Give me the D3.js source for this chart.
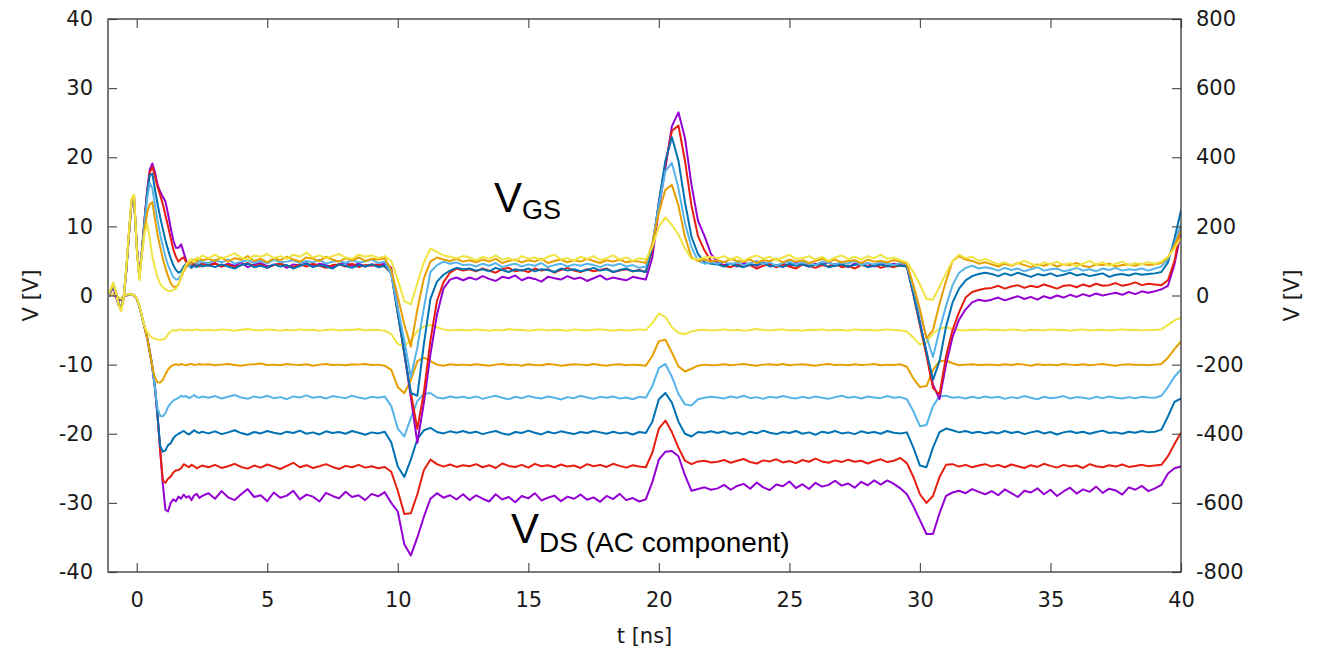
<!DOCTYPE html>
<html>
<head>
<meta charset="utf-8">
<script src="https://cdn.jsdelivr.net/npm/d3@7"></script>
<style>
  body { margin: 0; background: #fff; }
  svg { display: block; }
</style>
</head>
<body>
<svg id="chart" width="1317" height="650"></svg>
<script>
// Sample times (ns): fine steps through the first switching event, 0.25 ns afterwards
const timeNs = [
  -1.1,-1.0,-0.9,-0.8,-0.7,-0.6,-0.5,-0.4,-0.3,-0.2,-0.1,0,0.1,0.2,0.3,0.4,0.5,0.6,0.7,0.8,0.9,1.0,1.1,1.2,1.3,1.4,1.5,1.6,1.7,1.8,1.9,2.0,2.1,2.2,2.3,2.4,2.5,
  2.75,3,3.25,3.5,3.75,4,4.25,4.5,4.75,5,5.25,5.5,5.75,6,6.25,6.5,6.75,7,7.25,7.5,7.75,8,8.25,8.5,8.75,9,9.25,9.5,
  9.75,10,10.25,10.5,10.75,11,11.25,11.5,11.75,12,12.25,12.5,
  12.75,13,13.25,13.5,13.75,14,14.25,14.5,14.75,15,15.25,15.5,15.75,16,16.25,16.5,16.75,17,17.25,17.5,17.75,18,18.25,18.5,18.75,19,19.25,19.5,
  19.75,20,20.25,20.5,20.75,21,21.25,21.5,21.75,22,
  22.25,22.5,22.75,23,23.25,23.5,23.75,24,24.25,24.5,24.75,25,25.25,25.5,25.75,26,26.25,26.5,26.75,27,27.25,27.5,27.75,28,28.25,28.5,28.75,29,29.25,29.5,
  29.75,30,30.25,30.5,30.75,31,31.25,31.5,31.75,32,32.25,32.5,
  32.75,33,33.25,33.5,33.75,34,34.25,34.5,34.75,35,35.25,35.5,35.75,36,36.25,36.5,36.75,37,37.25,37.5,37.75,38,38.25,38.5,38.75,
  39,39.25,39.5,39.75,40
];

// Gate-source voltage V_GS (left axis, V)
const vgsPurple = [
  -0.2,0.6,1.2,0.0,-1.4,-1.8,-0.6,3.5,8.6,13.3,13.8,7.3,2.8,6.5,11.0,15.2,18.2,19.1,17.8,16.0,15.0,14.3,13.6,11.8,9.8,8.0,6.9,6.9,7.4,6.2,5.0,4.6,4.8,4.2,4.6,4.3,4.7,
  4.4,4.7,4.2,4.6,4.3,4.8,4.1,4.5,4.7,4.2,4.4,4.6,4.0,4.5,4.3,4.7,4.2,4.6,4.4,4.1,4.5,4.7,4.3,4.6,4.2,4.5,4.4,4.6,
  4.0,-2.0,-8.4,-14.7,-21.3,-15.5,-8.5,-2.8,1.0,2.3,2.6,2.2,
  2.6,2.3,2.8,2.4,2.1,2.7,2.5,2.9,2.2,2.6,2.4,2.0,2.7,2.5,2.3,2.8,2.4,2.6,2.1,2.5,2.9,2.3,2.6,2.4,2.2,2.7,2.5,2.3,
  5.5,12.5,18.5,24.5,26.5,22.8,16.0,10.8,8.6,6.0,
  4.8,4.4,4.6,4.2,4.7,4.5,4.3,4.8,4.4,4.1,4.6,4.3,4.7,4.5,4.2,4.6,4.4,4.8,4.3,4.5,4.1,4.6,4.4,4.7,4.2,4.5,4.3,4.6,4.4,4.3,
  0.3,-3.9,-8.2,-12.9,-15.0,-10.0,-6.0,-3.5,-2.0,-1.0,-0.6,-0.8,
  -0.6,-0.3,-0.7,-0.4,-0.1,-0.5,-0.2,-0.6,-0.1,-0.4,0.0,-0.3,0.1,-0.2,0.2,-0.1,0.3,0.0,0.2,0.4,0.1,0.5,0.2,0.6,0.4,
  0.6,0.9,1.4,4.5,9.2
];
const vgsRed = [
  -0.1,0.5,1.4,0.3,-1.1,-2.0,-0.2,3.6,8.7,13.4,13.9,7.2,2.7,6.5,11.0,15.0,17.8,18.6,17.2,15.7,14.5,13.2,11.6,10.0,8.3,6.7,5.6,4.9,5.3,5.5,4.8,4.5,4.3,4.7,4.4,4.2,4.6,
  4.3,4.6,4.2,4.5,4.1,4.4,4.7,4.2,4.5,4.0,4.4,4.6,4.3,4.1,4.5,4.2,4.6,4.3,4.0,4.4,4.5,4.2,4.6,4.1,4.4,4.3,4.5,4.2,
  3.2,-2.6,-8.3,-14.1,-19.3,-14.0,-6.5,-0.8,1.9,3.3,3.9,3.6,
  3.8,3.5,3.9,3.6,3.3,3.8,4.0,3.5,3.7,3.4,3.9,3.6,3.8,3.3,3.7,4.0,3.6,3.4,3.8,3.5,3.7,3.9,3.4,3.6,3.8,3.5,3.7,3.4,
  6.5,13.5,19.0,23.8,24.6,19.5,13.0,8.6,6.5,5.0,
  4.6,4.3,4.1,4.5,4.2,4.4,3.9,4.3,4.6,4.1,4.4,4.2,3.9,4.5,4.3,4.0,4.4,4.2,4.6,4.1,4.3,3.9,4.4,4.2,4.5,4.0,4.3,4.1,4.4,4.2,
  0.1,-4.3,-8.7,-13.4,-14.3,-8.8,-5.0,-2.4,-0.3,0.5,0.8,1.0,
  1.1,1.4,1.0,1.3,1.5,1.1,1.4,1.2,1.6,1.3,1.0,1.4,1.5,1.2,1.6,1.3,1.7,1.4,1.5,1.8,1.4,1.6,1.9,1.5,1.7,
  1.6,1.5,2.2,5.0,10.1
];
const vgsDarkBlue = [
  0.1,0.6,1.5,0.5,-1.0,-1.9,-0.3,3.7,8.8,13.5,14.0,7.1,2.6,6.4,10.8,14.8,17.4,17.6,15.3,13.2,11.3,9.6,8.0,6.6,5.4,4.4,3.7,3.3,3.5,4.2,4.6,4.3,4.0,4.4,4.1,4.5,4.2,
  4.4,4.1,4.5,4.2,3.9,4.4,4.6,4.1,4.3,4.0,4.5,4.2,4.4,3.9,4.3,4.6,4.1,4.4,4.2,3.9,4.5,4.3,4.0,4.4,4.2,4.5,4.1,4.3,
  3.2,-2.6,-8.3,-14.1,-14.5,-7.0,-0.5,2.0,3.0,3.6,4.0,3.8,
  3.9,3.6,3.8,3.5,4.0,3.7,3.4,3.8,3.6,3.9,3.5,3.8,3.7,3.4,3.9,3.6,3.8,3.5,3.7,4.0,3.6,3.8,3.4,3.7,3.9,3.5,3.6,3.4,
  7.0,13.5,19.5,22.9,19.5,13.5,8.5,6.0,4.8,4.6,
  4.5,4.2,4.6,4.3,4.1,4.5,4.4,4.7,4.2,4.4,4.1,4.6,4.3,4.5,4.2,4.4,4.6,4.1,4.3,4.5,4.2,4.4,4.6,4.1,4.3,4.5,4.2,4.4,4.3,4.2,
  0.2,-4.0,-8.1,-12.2,-9.5,-4.5,-1.0,1.0,2.2,2.8,3.1,3.3,
  3.1,2.8,3.2,2.9,3.3,3.0,2.7,3.1,2.9,3.2,2.8,3.0,3.3,2.9,3.1,2.8,3.0,3.2,2.7,3.0,3.1,2.9,3.2,3.0,3.1,
  3.2,3.4,4.8,8.2,12.3
];
const vgsLightBlue = [
  0.0,0.7,1.6,0.4,-1.2,-2.0,-0.3,3.8,8.9,13.6,14.2,7.0,2.5,6.3,10.5,14.0,16.3,15.5,13.0,10.8,8.8,7.2,5.6,4.4,3.5,2.7,2.3,2.4,3.0,3.7,4.4,4.2,4.7,5.0,4.6,5.0,4.8,
  4.7,5.1,4.8,5.2,4.6,4.9,5.1,4.7,5.0,4.6,5.2,4.8,4.9,5.1,4.7,5.0,4.8,5.2,4.6,4.9,5.0,4.7,5.1,4.8,4.9,5.2,4.7,4.9,
  3.0,-1.8,-6.5,-11.8,-7.5,-1.8,3.4,4.4,4.9,4.6,4.8,4.4,
  4.5,4.2,4.6,4.3,4.7,4.1,4.4,4.6,4.2,4.5,4.3,4.7,4.1,4.4,4.6,4.2,4.5,4.3,4.6,4.4,4.1,4.5,4.3,4.6,4.2,4.4,4.0,4.2,
  7.5,13.0,18.0,19.2,15.5,10.5,7.0,5.0,4.6,4.8,
  4.6,4.9,4.5,4.8,4.4,4.7,5.0,4.6,4.8,4.3,4.7,4.9,4.5,4.8,4.6,4.4,4.9,4.7,4.5,4.8,4.6,5.0,4.4,4.7,4.5,4.8,4.6,4.4,4.7,4.5,
  1.0,-2.5,-6.0,-8.9,-5.0,-1.5,1.5,3.3,4.0,4.3,3.9,4.1,
  3.9,3.6,4.0,3.7,3.9,3.5,3.8,4.1,3.6,3.8,3.9,3.5,3.7,4.0,3.6,3.8,3.5,3.9,3.7,4.0,3.6,3.8,3.7,3.9,3.6,
  3.9,4.2,5.3,7.5,10.3
];
const vgsOrange = [
  0.1,0.8,1.7,0.6,-1.1,-2.1,-0.4,3.9,9.0,13.8,14.4,6.9,2.4,6.0,9.5,12.0,13.2,13.5,11.0,8.8,7.0,5.3,4.0,2.8,1.8,1.3,1.2,1.6,2.6,3.5,4.2,4.6,4.8,5.2,4.9,5.4,5.1,
  5.3,5.0,5.5,4.9,5.4,5.2,5.7,5.0,5.3,4.8,5.4,5.1,5.6,5.2,4.9,5.5,5.3,5.0,5.6,5.2,4.9,5.4,5.1,5.5,5.0,5.3,5.2,5.4,
  3.7,-0.2,-4.2,-7.4,-2.0,2.5,4.9,5.5,5.2,5.0,5.3,4.9,
  5.1,4.8,5.2,4.9,5.3,4.7,5.0,5.2,4.8,5.1,4.9,5.3,4.7,5.0,5.2,4.8,5.1,4.9,5.3,5.0,4.7,5.1,4.9,5.2,4.8,5.0,4.9,4.7,
  7.5,12.0,15.3,16.0,13.0,8.5,5.5,5.0,5.2,4.9,
  5.1,4.8,5.3,5.0,4.9,5.2,4.7,5.1,5.0,5.3,4.8,5.2,4.9,5.1,4.7,5.0,5.3,4.9,5.2,4.8,5.0,5.1,4.7,5.2,4.9,5.0,4.8,5.1,4.9,4.6,
  1.5,-2.0,-6.2,-5.0,-1.2,2.1,5.0,5.7,5.2,5.0,4.6,4.8,
  4.5,4.2,4.6,4.3,4.7,4.4,4.1,4.5,4.3,4.6,4.2,4.5,4.4,4.7,4.3,4.1,4.5,4.4,4.6,4.2,4.4,4.5,4.3,4.6,4.4,
  4.5,4.7,5.5,7.2,9.4
];
const vgsYellow = [
  0.2,0.9,1.9,0.5,-1.3,-2.3,-0.5,4.0,9.2,14.0,14.6,6.8,2.2,6.0,9.0,10.4,8.2,5.6,4.0,2.6,1.7,1.2,0.9,0.7,0.6,0.8,1.0,1.6,2.8,3.8,4.5,5.0,5.3,4.8,5.5,5.3,5.8,
  5.4,5.9,5.3,5.7,6.1,5.5,5.2,5.8,5.6,6.0,5.4,5.7,5.3,5.9,5.6,6.2,5.5,5.8,5.4,5.7,6.0,5.5,5.3,5.9,5.6,5.8,5.4,5.7,
  5.0,2.3,-0.8,-1.3,1.8,4.8,6.8,6.3,5.8,5.6,5.4,5.7,
  5.5,5.1,5.6,5.3,5.8,5.2,5.4,5.0,5.7,5.3,5.5,5.1,5.6,5.9,5.2,5.4,5.0,5.6,5.3,5.7,5.1,5.4,5.8,5.2,5.5,5.0,5.4,5.2,
  7.0,10.0,11.3,10.2,8.8,6.8,5.3,5.2,5.5,5.6,
  5.4,5.7,5.2,5.6,5.0,5.5,5.8,5.3,5.6,5.1,5.5,5.9,5.3,5.4,5.7,5.2,5.6,5.0,5.5,5.8,5.3,5.6,5.2,5.7,5.4,5.9,5.3,5.5,5.1,4.8,
  3.4,1.6,-0.5,-0.6,1.3,3.2,5.0,5.9,5.4,5.6,5.0,5.3,
  4.9,4.5,4.8,4.4,4.7,5.0,4.6,4.3,4.8,4.5,4.9,4.4,4.7,4.2,4.6,5.0,4.5,4.8,4.3,4.6,4.9,4.4,4.7,4.5,4.8,
  4.6,4.9,5.6,6.8,8.4
];

// Drain-source voltage V_DS, AC component (right axis, V)
const vdsPurple = [
  -1,1,3,-4,-15,-12,-4,0,2,2,0,-10,-32,-62,-92,-122,-162,-208,-268,-350,-450,-545,-620,-625,-600,-590,-595,-582,-588,-576,-585,-580,-592,-578,-574,-586,-580,
  -572,-588,-566,-584,-592,-575,-560,-583,-578,-595,-570,-585,-579,-565,-590,-576,-582,-596,-571,-580,-587,-568,-583,-578,-592,-574,-581,-569,
  -600,-625,-720,-752,-700,-640,-588,-572,-585,-578,-590,-575,
  -592,-578,-588,-596,-575,-590,-583,-598,-580,-587,-572,-593,-585,-579,-595,-582,-588,-576,-591,-584,-597,-580,-589,-574,-592,-586,-596,-590,
  -540,-475,-452,-450,-465,-520,-565,-560,-555,-562,
  -558,-548,-562,-551,-545,-559,-541,-555,-563,-547,-552,-538,-557,-546,-560,-542,-553,-548,-536,-550,-544,-556,-539,-549,-535,-547,-535,-545,-558,-575,
  -610,-650,-690,-690,-630,-580,-570,-565,-572,-560,-568,-575,
  -566,-578,-561,-572,-583,-565,-570,-558,-575,-562,-580,-567,-556,-573,-561,-568,-553,-571,-559,-564,-576,-555,-562,-551,-566,
  -558,-548,-515,-500,-495
];
const vdsRed = [
  0,2,4,-1,-8,-11,-3,1,3,2,1,-9,-31,-61,-92,-122,-162,-208,-268,-350,-450,-535,-542,-530,-524,-512,-506,-505,-500,-488,-492,-497,-490,-494,-500,-496,-492,
  -497,-490,-499,-494,-487,-496,-501,-492,-498,-489,-495,-502,-493,-484,-497,-491,-499,-494,-488,-496,-502,-493,-497,-490,-498,-494,-500,-496,
  -510,-565,-632,-630,-575,-505,-475,-488,-495,-489,-496,-491,
  -494,-488,-497,-491,-499,-486,-493,-496,-490,-498,-487,-494,-491,-497,-489,-495,-492,-499,-488,-494,-490,-496,-487,-493,-498,-491,-495,-497,
  -455,-385,-362,-395,-440,-478,-488,-480,-478,-483,
  -481,-476,-484,-478,-473,-482,-486,-477,-480,-474,-483,-479,-485,-476,-481,-472,-480,-484,-477,-482,-475,-481,-478,-486,-479,-474,-482,-478,-470,-485,
  -525,-575,-600,-580,-525,-490,-488,-495,-490,-497,-492,-488,
  -495,-490,-497,-489,-494,-499,-491,-496,-487,-493,-498,-490,-495,-492,-499,-488,-494,-497,-491,-495,-489,-496,-493,-490,-494,
  -492,-490,-465,-430,-397
];
const vdsDarkBlue = [
  0,1,5,0,-8,-10,-3,1,3,2,1,-9,-31,-61,-92,-122,-162,-208,-268,-350,-435,-452,-448,-433,-428,-413,-405,-400,-396,-392,-398,-402,-396,-390,-395,-398,-394,
  -399,-393,-401,-396,-390,-398,-403,-395,-399,-392,-397,-401,-394,-398,-391,-400,-396,-402,-393,-398,-395,-400,-392,-397,-403,-396,-399,-394,
  -425,-495,-525,-475,-415,-390,-383,-395,-399,-393,-397,-392,
  -398,-394,-401,-396,-392,-399,-403,-395,-398,-391,-397,-402,-394,-399,-393,-397,-401,-395,-398,-392,-396,-400,-394,-399,-396,-402,-395,-398,
  -365,-300,-282,-310,-365,-400,-408,-395,-397,-393,
  -398,-393,-400,-396,-402,-394,-399,-391,-397,-401,-395,-398,-392,-400,-396,-403,-394,-398,-392,-399,-396,-401,-393,-398,-395,-400,-392,-397,-399,-396,
  -440,-492,-497,-440,-395,-385,-390,-396,-392,-398,-394,-399,
  -395,-399,-392,-398,-394,-401,-396,-392,-399,-395,-402,-396,-393,-398,-394,-400,-395,-391,-398,-396,-400,-394,-397,-392,-396,
  -394,-388,-350,-308,-298
];
const vdsLightBlue = [
  0,2,5,1,-7,-9,-3,2,3,3,1,-8,-30,-60,-92,-122,-162,-208,-268,-328,-348,-350,-340,-322,-312,-304,-300,-296,-290,-293,-291,-297,-293,-288,-294,-296,-292,
  -296,-291,-298,-293,-288,-295,-299,-292,-296,-290,-297,-294,-300,-292,-295,-289,-296,-293,-298,-291,-294,-297,-290,-295,-299,-293,-296,-292,
  -320,-385,-408,-355,-305,-285,-282,-295,-298,-292,-296,-293,
  -297,-292,-299,-294,-290,-296,-300,-293,-297,-291,-295,-298,-292,-296,-301,-294,-297,-290,-295,-299,-293,-296,-292,-298,-295,-300,-293,-296,
  -262,-210,-198,-235,-285,-315,-318,-300,-296,-293,
  -295,-298,-292,-296,-290,-297,-294,-299,-293,-296,-291,-295,-298,-293,-297,-292,-296,-299,-294,-290,-296,-293,-298,-292,-295,-297,-291,-296,-294,-300,
  -335,-378,-375,-320,-292,-290,-296,-294,-298,-293,-297,-292,
  -296,-293,-299,-294,-297,-291,-296,-300,-293,-297,-295,-291,-298,-294,-296,-299,-293,-297,-292,-296,-298,-294,-297,-293,-295,
  -296,-290,-265,-235,-214
];
const vdsOrange = [
  0,2,5,0,-7,-9,-2,2,4,3,2,-8,-30,-60,-92,-122,-162,-208,-238,-251,-252,-244,-228,-214,-206,-201,-199,-201,-198,-200,-202,-199,-198,-201,-200,-198,-200,
  -199,-202,-200,-198,-201,-203,-200,-199,-197,-201,-200,-202,-198,-200,-201,-199,-203,-200,-198,-201,-200,-202,-199,-200,-198,-201,-200,-203,
  -215,-265,-283,-245,-190,-180,-190,-200,-203,-199,-201,-200,
  -202,-199,-201,-203,-200,-198,-201,-200,-203,-199,-201,-202,-198,-200,-203,-201,-199,-200,-202,-198,-201,-203,-200,-199,-202,-200,-201,-203,
  -175,-132,-128,-165,-205,-220,-212,-203,-200,-202,
  -201,-199,-202,-200,-198,-201,-203,-200,-199,-201,-198,-202,-200,-199,-201,-203,-200,-198,-201,-200,-202,-199,-201,-200,-198,-202,-200,-201,-199,-206,
  -240,-265,-262,-215,-190,-188,-196,-202,-200,-199,-201,-200,
  -200,-202,-199,-201,-198,-200,-203,-199,-201,-200,-202,-198,-200,-201,-199,-202,-200,-198,-201,-203,-200,-199,-201,-200,-202,
  -200,-198,-180,-155,-133
];
const vdsYellow = [
  1,3,5,1,-6,-8,-2,2,4,3,1,-8,-30,-60,-90,-105,-116,-122,-125,-127,-128,-127,-124,-112,-104,-100,-102,-99,-98,-101,-100,-99,-101,-100,-98,-100,-101,
  -99,-101,-98,-100,-102,-99,-97,-100,-101,-98,-100,-102,-99,-101,-98,-100,-99,-102,-100,-98,-101,-99,-100,-97,-101,-99,-100,-102,
  -112,-140,-148,-128,-103,-90,-85,-92,-98,-101,-99,-100,
  -101,-98,-100,-102,-99,-101,-97,-100,-99,-102,-100,-98,-101,-99,-100,-102,-98,-100,-101,-99,-98,-100,-102,-99,-101,-100,-98,-100,
  -80,-52,-62,-92,-108,-112,-104,-100,-99,-101,
  -100,-98,-101,-99,-102,-100,-97,-100,-101,-99,-98,-101,-100,-102,-99,-100,-98,-101,-99,-100,-102,-98,-100,-99,-101,-100,-98,-100,-101,-104,
  -122,-142,-135,-110,-96,-92,-96,-100,-101,-99,-100,-98,
  -100,-99,-101,-98,-100,-102,-99,-100,-101,-98,-100,-99,-102,-100,-98,-101,-100,-99,-101,-100,-98,-100,-99,-101,-100,
  -100,-98,-85,-72,-64
];

// Axis ticks
const xTicks = [0, 5, 10, 15, 20, 25, 30, 35, 40];
const leftTicks = [-40, -30, -20, -10, 0, 10, 20, 30, 40];
const rightTicks = [-800, -600, -400, -200, 0, 200, 400, 600, 800];

// Trace colours, drawn purple first so yellow ends up on top
const traceColors = {
  purple: "#9400d3",
  red: "#e51e10",
  darkBlue: "#0072b2",
  lightBlue: "#56b4e9",
  orange: "#e69f00",
  yellow: "#f0e442"
};

const traces = [
  { values: vdsPurple, color: traceColors.purple, axis: "right" },
  { values: vdsRed, color: traceColors.red, axis: "right" },
  { values: vdsDarkBlue, color: traceColors.darkBlue, axis: "right" },
  { values: vdsLightBlue, color: traceColors.lightBlue, axis: "right" },
  { values: vdsOrange, color: traceColors.orange, axis: "right" },
  { values: vdsYellow, color: traceColors.yellow, axis: "right" },
  { values: vgsPurple, color: traceColors.purple, axis: "left" },
  { values: vgsRed, color: traceColors.red, axis: "left" },
  { values: vgsDarkBlue, color: traceColors.darkBlue, axis: "left" },
  { values: vgsLightBlue, color: traceColors.lightBlue, axis: "left" },
  { values: vgsOrange, color: traceColors.orange, axis: "left" },
  { values: vgsYellow, color: traceColors.yellow, axis: "left" }
];

const plot = { left: 108, right: 1181, top: 19, bottom: 572 };
const tickFont = "'DejaVu Sans', Verdana, sans-serif";
const noteFont = "'Liberation Sans', Arial, sans-serif";

const svg = d3.select("#chart");

const x = d3.scaleLinear().domain([-1.1, 40]).range([plot.left, plot.right]);
const yLeft = d3.scaleLinear().domain([-40, 40]).range([plot.bottom, plot.top]);
const yRight = d3.scaleLinear().domain([-800, 800]).range([plot.bottom, plot.top]);

svg.append("defs").append("clipPath").attr("id", "plot-clip")
  .append("rect")
  .attr("x", plot.left).attr("y", plot.top)
  .attr("width", plot.right - plot.left).attr("height", plot.bottom - plot.top);

// Traces
const traceLayer = svg.append("g").attr("clip-path", "url(#plot-clip)");
traces.forEach(tr => {
  const yScale = tr.axis === "left" ? yLeft : yRight;
  const pts = timeNs.slice(0, tr.values.length).map((t, i) => [t, tr.values[i]]);
  const line = d3.line().x(d => x(d[0])).y(d => yScale(d[1]));
  traceLayer.append("path")
    .datum(pts)
    .attr("d", line)
    .attr("fill", "none")
    .attr("stroke", tr.color)
    .attr("stroke-width", 2)
    .attr("stroke-linejoin", "round")
    .attr("stroke-linecap", "round");
});

// Axes with inward ticks on all four sides
const tickLen = 9;
function styleAxis(g) {
  g.select(".domain").remove();
  g.selectAll(".tick line").attr("stroke", "#555").attr("stroke-width", 1.2);
  g.selectAll(".tick text")
    .attr("fill", "#1a1a1a")
    .style("font-family", tickFont)
    .style("font-size", "21px");
}

svg.append("g")
  .attr("transform", `translate(${plot.left},0)`)
  .call(d3.axisLeft(yLeft).tickValues(leftTicks).tickSizeInner(-tickLen).tickSizeOuter(0)
    .tickPadding(15).tickFormat(d => String(d)))
  .call(styleAxis);

svg.append("g")
  .attr("transform", `translate(${plot.right},0)`)
  .call(d3.axisRight(yRight).tickValues(rightTicks).tickSizeInner(-tickLen).tickSizeOuter(0)
    .tickPadding(15).tickFormat(d => String(d)))
  .call(styleAxis);

svg.append("g")
  .attr("transform", `translate(0,${plot.bottom})`)
  .call(d3.axisBottom(x).tickValues(xTicks).tickSizeInner(-tickLen).tickSizeOuter(0)
    .tickPadding(20).tickFormat(d => String(d)))
  .call(styleAxis);

svg.append("g")
  .attr("transform", `translate(0,${plot.top})`)
  .call(d3.axisTop(x).tickValues(xTicks).tickSizeInner(-tickLen).tickSizeOuter(0)
    .tickFormat(() => ""))
  .call(styleAxis);

// Frame
svg.append("rect")
  .attr("x", plot.left).attr("y", plot.top)
  .attr("width", plot.right - plot.left).attr("height", plot.bottom - plot.top)
  .attr("fill", "none").attr("stroke", "#333").attr("stroke-width", 1.3);
svg.append("line")
  .attr("x1", plot.left).attr("x2", plot.left)
  .attr("y1", plot.top).attr("y2", plot.bottom)
  .attr("stroke", "#777").attr("stroke-width", 2);

// Axis titles
svg.append("text")
  .attr("x", (plot.left + plot.right) / 2).attr("y", 643)
  .attr("text-anchor", "middle")
  .style("font-family", tickFont).style("font-size", "21px").attr("fill", "#1a1a1a")
  .text("t [ns]");

svg.append("text")
  .attr("transform", `translate(31,${(plot.top + plot.bottom) / 2}) rotate(-90)`)
  .attr("text-anchor", "middle").attr("dominant-baseline", "central")
  .style("font-family", tickFont).style("font-size", "21px").attr("fill", "#1a1a1a")
  .text("V [V]");

svg.append("text")
  .attr("transform", `translate(1292,${(plot.top + plot.bottom) / 2}) rotate(-90)`)
  .attr("text-anchor", "middle").attr("dominant-baseline", "central")
  .style("font-family", tickFont).style("font-size", "21px").attr("fill", "#1a1a1a")
  .text("V [V]");

// Trace group labels
const vgsLabel = svg.append("text")
  .attr("x", 494).attr("y", 212)
  .style("font-family", noteFont).attr("fill", "#000");
vgsLabel.append("tspan").style("font-size", "42px").text("V");
vgsLabel.append("tspan").style("font-size", "27px").attr("dy", 7).text("GS");

const vdsLabel = svg.append("text")
  .attr("x", 511).attr("y", 543)
  .style("font-family", noteFont).attr("fill", "#000");
vdsLabel.append("tspan").style("font-size", "42px").text("V");
vdsLabel.append("tspan").style("font-size", "28px").attr("dy", 9).text("DS (AC component)");
</script>
</body>
</html>
